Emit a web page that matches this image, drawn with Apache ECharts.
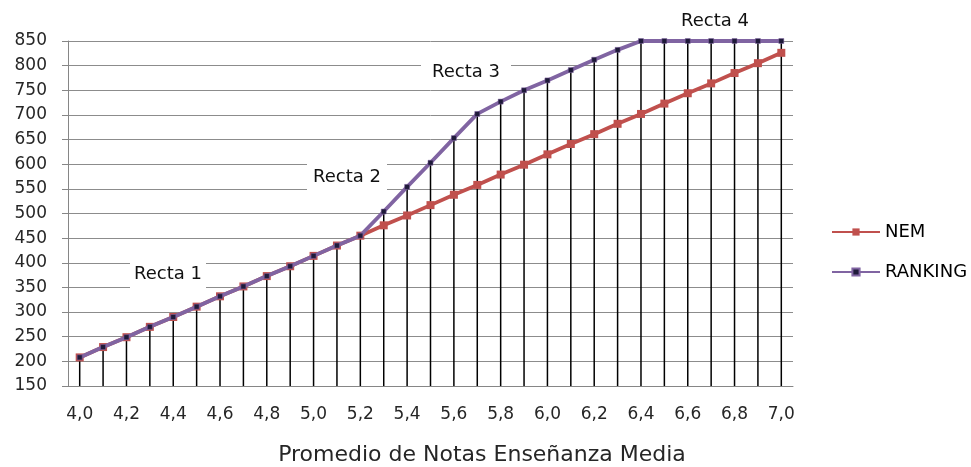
<!DOCTYPE html>
<html>
<head>
<meta charset="utf-8">
<script src="https://cdn.jsdelivr.net/npm/echarts@6/dist/echarts.min.js"></script>
<style>html,body{margin:0;padding:0;background:#fff}#c{width:971px;height:467px}</style>
</head>
<body>
<div id="c"></div>
<script>
var categories = ['4,0','4,1','4,2','4,3','4,4','4,5','4,6','4,7','4,8','4,9','5,0','5,1','5,2','5,3','5,4','5,5','5,6','5,7','5,8','5,9','6,0','6,1','6,2','6,3','6,4','6,5','6,6','6,7','6,8','6,9','7,0'];
var nem = [208,229,249,270,290,311,332,352,373,393,414,435,455,476,496,517,538,558,579,599,620,641,661,682,702,723,744,764,785,805,826];
var ranking = [208,229,249,270,290,311,332,352,373,393,414,435,455,504,554,603,653,702,727,750,770,791,812,832,850,850,850,850,850,850,850];
var annotations = [
  {text:'Recta 1', cx:168, cy:275, w:76, h:31},
  {text:'Recta 2', cx:347, cy:177, w:80, h:32},
  {text:'Recta 3', cx:466, cy:72, w:90, h:28},
  {text:'Recta 4', cx:715, cy:21, w:76, h:24}
];
var font = '"DejaVu Sans", Verdana, sans-serif';
var chart = echarts.init(document.getElementById('c'));
var graphics = [];
annotations.forEach(function(a){
  graphics.push({type:'rect', shape:{x:a.cx-a.w/2, y:a.cy-a.h/2, width:a.w, height:a.h}, style:{fill:'#fff'}, z:50});
  graphics.push({type:'text', x:a.cx, y:a.cy - (a.text === 'Recta 1' ? 1 : 0), style:{text:a.text, font:'18px '+font, fill:'#111', align:'center', verticalAlign:'middle'}, z:51});
});
chart.setOption({
  animation:false,
  grid:{left:68, right:178, top:41, bottom:81, containLabel:false, outerBoundsMode:'none'},
  legend:{
    orient:'vertical', left:826, top:218, itemWidth:48, itemHeight:9, itemGap:22,
    data:['NEM','RANKING'],
    textStyle:{fontFamily:font, fontSize:18, color:'#000'}
  },
  xAxis:{
    type:'category', data:categories, boundaryGap:true,
    name:'Promedio de Notas Enseñanza Media', nameLocation:'middle', nameGap:58,
    nameTextStyle:{fontFamily:font, fontSize:22, color:'#262626', padding:[0,0,0,103]},
    axisLine:{lineStyle:{color:'#868686', width:1}},
    axisTick:{show:false},
    axisLabel:{interval:1, margin:20, fontFamily:font, fontSize:17, color:'#262626'},
    splitLine:{show:false}
  },
  yAxis:{
    type:'value', min:150, max:850, interval:50,
    axisLine:{show:true, lineStyle:{color:'#868686', width:1}},
    axisTick:{show:true, length:6, lineStyle:{color:'#868686'}},
    axisLabel:{margin:21, fontFamily:font, fontSize:17, color:'#262626'},
    splitLine:{lineStyle:{color:'#8c8c8c', width:1}}
  },
  series:[
    {name:'drop', type:'bar', data:ranking, barWidth:1.5, itemStyle:{color:'#000'}, z:1, silent:true, legendHoverLink:false},
    {name:'NEM', type:'line', data:nem, symbol:'rect', symbolSize:8, z:3,
     lineStyle:{color:'#C0504D', width:3.8}, itemStyle:{color:'#C0504D'}},
    {name:'RANKING', type:'line', data:ranking, symbol:'rect', symbolSize:5, z:4,
     lineStyle:{color:'#8064A2', width:3.8}, itemStyle:{color:'#1f1a3a', borderColor:'#8064A2', borderWidth:0.5}}
  ],
  graphic:graphics
});
</script>
</body>
</html>
